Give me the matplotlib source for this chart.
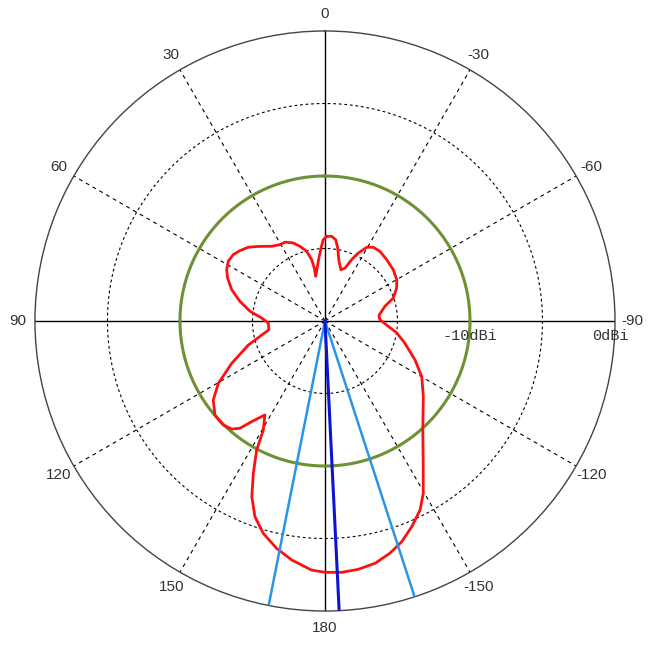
import numpy as np
import matplotlib
matplotlib.use("Agg")
import matplotlib.pyplot as plt
from matplotlib.transforms import ScaledTranslation

# ---------------- data ----------------
# red antenna pattern: angle (deg, CCW from top) and gain (dBi)
red_deg = [-1.15, 1.2, 3.1, 6.4, 11.75, 11.4, 12.2, 14.7, 18.5, 22.1, 26.9, 30.5,
           35.5, 41.8, 46.1, 50.4, 54.1, 58.3, 62.4, 66.2, 71.4, 77.0, 82.6, 87.3,
           92.0, 98.8, 107.4, 114.4, 120.3, 125.3, 130.5, 135.6, 139.2, 141.6,
           143.9, 147.4, 150.5, 152.1, 154.8, 157.4, 160.3, 163.8, 168.0, 172.1,
           176.9, 180.0, -176.2, -172.4, -168.3, -164.4, -160.8, -157.1, -153.3,
           -150.3, -145.4, -138.1, -127.6, -119.9, -113.4, -105.6, -99.3, -94.8,
           -88.6, -84.0, -76.2, -71.4, -65.3, -60.1, -53.1, -45.2, -38.3, -33.2,
           -29.5, -26.1, -23.5, -20.7, -17.3, -13.2, -9.9, -7.5, -4.5]
red_db = [-14.16, -14.39, -14.96, -15.86, -16.85, -16.27, -15.68, -15.03, -14.57,
          -14.19, -13.90, -13.89, -13.67, -13.10, -12.66, -12.39, -12.19, -12.16,
          -12.35, -12.66, -13.21, -13.98, -14.79, -15.63, -16.09, -16.09, -14.46,
          -12.94, -11.48, -10.56, -10.02, -9.97, -10.16, -10.56, -11.41, -12.31,
          -11.36, -9.93, -8.39, -6.87, -5.67, -4.75, -3.97, -3.36, -2.80, -2.67,
          -2.63, -2.72, -2.94, -3.37, -3.89, -4.61, -5.41, -6.32, -8.07, -9.90,
          -11.44, -12.30, -13.23, -14.27, -14.99, -15.62, -16.21, -16.26, -15.74,
          -15.03, -14.56, -14.29, -14.11, -14.00, -13.88, -13.92, -14.16, -14.78,
          -15.39, -16.10, -16.30, -15.77, -14.89, -14.34, -14.14]
assert len(red_deg) == len(red_db)

green_level_db = -10.0            # reference circle
beam_deg = -177.2                 # dark blue beam direction
beam_edges_deg = [168.8, -162.0]  # light blue edge lines

angle_ticks = [0, 30, 60, 90, 120, 150, 180, -150, -120, -90, -60, -30]
angle_labels = ["0", "30", "60", "90", "120", "150", "180", "-150", "-120", "-90", "-60", "-30"]
ring_levels = [-15, -10, -5]
db_label_levels = [-10, 0]
db_labels = ["-10dBi", "0dBi"]

r_min, r_max = -20, 0

# ---------------- figure ----------------
fig = plt.figure(figsize=(6.51, 6.51), dpi=100)
ax = fig.add_axes([0.0537, 0.0614, 0.891, 0.891], projection="polar")
ax.set_theta_zero_location("N")
ax.set_theta_direction(1)
ax.set_ylim(r_min, r_max)
ax.set_xticks([])
ax.set_yticks([])
ax.grid(False)
ax.spines["polar"].set_color("#444444")
ax.spines["polar"].set_linewidth(1.0)

full = np.linspace(0, 2 * np.pi, 721)
# dashed rings
for lv in ring_levels:
    ax.plot(full, np.full_like(full, lv), color="black", lw=0.8,
            linestyle=(0, (2.5, 2.5)), zorder=1)
# dashed spokes
for a in angle_ticks:
    if a % 90 != 0:
        th = np.deg2rad(a)
        ax.plot([th, th], [r_min, r_max], color="black", lw=0.8,
                linestyle=(0, (3.5, 3.5)), zorder=1)
# solid axes
for a in [0, 90, 180, -90]:
    th = np.deg2rad(a)
    ax.plot([th, th], [r_min, r_max], color="black", lw=1.0, zorder=1)

# green reference circle
ax.plot(full, np.full_like(full, green_level_db), color="#6f9135", lw=2.2, zorder=2)

# red pattern (closed)
th_red = np.deg2rad(red_deg + red_deg[:1])
r_red = np.array(red_db + red_db[:1])
ax.plot(th_red, r_red, color="#ff1010", lw=2.0, zorder=3, solid_joinstyle="round")

# light blue edge lines
for a in beam_edges_deg:
    th = np.deg2rad(a)
    ax.plot([th, th], [r_min, r_max], color="#2a95e6", lw=1.8, zorder=4)
# dark blue beam line
thb = np.deg2rad(beam_deg)
ax.plot([thb, thb], [r_min, r_max], color="#0a14d2", lw=2.2, zorder=5)

# angle labels
for a, lab in zip(angle_ticks, angle_labels):
    ax.text(np.deg2rad(a), r_max + 1.2, lab, ha="center", va="center",
            fontsize=11, color="#333333", family="Liberation Sans", clip_on=False)

# dB labels below the horizontal axis on the right
db_label_dx = [0.0, -0.05]   # inches
for lv, lab, dx in zip(db_label_levels, db_labels, db_label_dx):
    ax.text(np.deg2rad(-90), lv, lab, ha="center", va="top", fontsize=11,
            color="#333333", family="Liberation Mono", clip_on=False,
            transform=ax.transData + ScaledTranslation(dx, -0.08, fig.dpi_scale_trans))

fig.savefig("out.png", dpi=100, facecolor="white")
